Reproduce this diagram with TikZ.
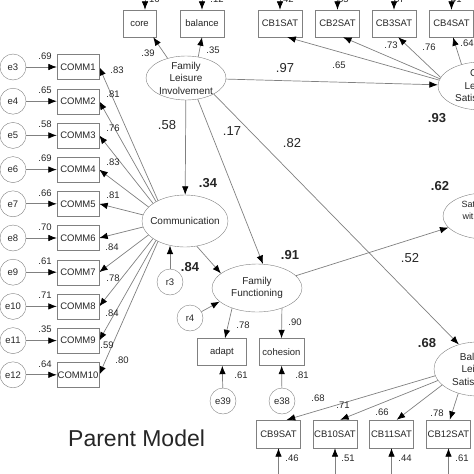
\documentclass[tikz,border=0pt]{standalone}
\usepackage{fontspec}
\setmainfont{Liberation Sans}
\usetikzlibrary{arrows.meta,shapes.geometric,backgrounds}

\begin{document}
\begin{tikzpicture}[x=1pt,y=-1pt,>={Latex[length=8.5pt,width=6.5pt,color=black]},
  every node/.style={font=\fontsize{9.5}{11}\selectfont,text=black!85},
  obs/.style={draw=gray,minimum height=27pt,inner sep=0pt},
  lat/.style={draw=gray,fill=white,ellipse,inner sep=-10pt,align=center,
    font=\fontsize{10}{12.5}\selectfont},
  err/.style={draw=gray,circle,minimum size=26pt,inner sep=0pt},
  conn/.style={draw=gray,line width=0.7pt,->},
  coef/.style={font=\fontsize{13}{13}\selectfont},
  rsq/.style={font=\fontsize{13}{13}\selectfont\bfseries}]
 \useasboundingbox (0,0) rectangle (474,474);
 \clip (0,0) rectangle (474,474);

 % latent variables
 \node[lat,minimum width=80pt,minimum height=44pt] (fli) at (186,78) {Family\\Leisure\\Involvement};
 \node[lat,minimum width=86pt,minimum height=52pt] (comm) at (185,221) {Communication};
 \node[lat,minimum width=90pt,minimum height=48pt] (ff) at (257,288) {Family\\Functioning};
 \node[lat,minimum width=86pt,minimum height=48pt] (cls) at (481,86) {Core\\Leisure\\Satisfaction};
 \node[lat,minimum width=84pt,minimum height=46pt,font=\fontsize{9}{12}\selectfont] (swfl) at (485,216) {Satisfaction\\with Family\\Life};
 \node[lat,minimum width=88pt,minimum height=54pt] (bls) at (478,369) {Balance\\Leisure\\Satisfaction};

 % top indicators
 \node[obs,minimum width=33pt] (core) at (139.5,23.5) {core};
 \node[obs,minimum width=44pt] (balance) at (202,23.5) {balance};
 \node[obs,minimum width=44pt] (cb1) at (280,23.5) {CB1SAT};
 \node[obs,minimum width=44pt] (cb2) at (337.5,23.5) {CB2SAT};
 \node[obs,minimum width=44pt] (cb3) at (394,23.5) {CB3SAT};
 \node[obs,minimum width=44pt] (cb4) at (451.5,23.5) {CB4SAT};

 % communication items
 \node[obs,minimum width=42pt,minimum height=25pt] (c1) at (78,67) {COMM1};
 \node[obs,minimum width=42pt,minimum height=25pt] (c2) at (78,101.2) {COMM2};
 \node[obs,minimum width=42pt,minimum height=25pt] (c3) at (78,135.4) {COMM3};
 \node[obs,minimum width=42pt,minimum height=25pt] (c4) at (78,169.6) {COMM4};
 \node[obs,minimum width=42pt,minimum height=25pt] (c5) at (78,203.8) {COMM5};
 \node[obs,minimum width=42pt,minimum height=25pt] (c6) at (78,238) {COMM6};
 \node[obs,minimum width=42pt,minimum height=25pt] (c7) at (78,272.2) {COMM7};
 \node[obs,minimum width=42pt,minimum height=25pt] (c8) at (78,306.4) {COMM8};
 \node[obs,minimum width=42pt,minimum height=25pt] (c9) at (78,340.6) {COMM9};
 \node[obs,minimum width=42pt,minimum height=25pt] (c10) at (78,374.8) {COMM10};
 \node[err] (e3) at (13,67) {e3};
 \node[err] (e4) at (13,101.2) {e4};
 \node[err] (e5) at (13,135.4) {e5};
 \node[err] (e6) at (13,169.6) {e6};
 \node[err] (e7) at (13,203.8) {e7};
 \node[err] (e8) at (13,238) {e8};
 \node[err] (e9) at (13,272.2) {e9};
 \node[err] (e10) at (13,306.4) {e10};
 \node[err] (e11) at (13,340.6) {e11};
 \node[err] (e12) at (13,374.8) {e12};

 % family functioning items
 \node[obs,minimum width=49pt] (adapt) at (222,352) {adapt};
 \node[obs,minimum width=45pt] (cohesion) at (281.5,352) {cohesion};
 \node[err] (e39) at (223,401) {e39};
 \node[err] (e38) at (282,401) {e38};
 \node[err] (r3) at (170,282) {r3};
 \node[err] (r4) at (190,318) {r4};

 % bottom indicators
 \node[obs,minimum width=44pt,minimum height=28pt] (cb9) at (278.5,434) {CB9SAT};
 \node[obs,minimum width=44pt,minimum height=28pt] (cb10) at (335,434) {CB10SAT};
 \node[obs,minimum width=44pt,minimum height=28pt] (cb11) at (391.5,434) {CB11SAT};
 \node[obs,minimum width=44pt,minimum height=28pt] (cb12) at (448.5,434) {CB12SAT};

 % free ends beyond the frame
 \coordinate (core-in) at (145,-40);
 \coordinate (balance-in) at (202,-40);
 \coordinate (cb1-in) at (280,-40);
 \coordinate (cb2-in) at (337.5,-40);
 \coordinate (cb3-in) at (394,-40);
 \coordinate (cb4-in) at (451.5,-40);
 \coordinate (cb9-in) at (278.5,510);
 \coordinate (cb10-in) at (335,510);
 \coordinate (cb11-in) at (391.5,510);
 \coordinate (cb12-in) at (448.5,510);
 \coordinate (hub) at (167,221);

 \begin{pgfonlayer}{background}
  \draw[conn] (hub) -- (c1.east);
  \draw[conn] (hub) -- (c2.east);
  \draw[conn] (hub) -- (c3.east);
  \draw[conn] (hub) -- (c4.east);
  \draw[conn] (hub) -- (c5.east);
  \draw[conn] (hub) -- (c6.east);
  \draw[conn] (hub) -- (c7.east);
  \draw[conn] (hub) -- (c8.east);
  \draw[conn] (hub) -- (c9.east);
  \draw[conn] (hub) -- (c10.east);
 \end{pgfonlayer}
 \draw[conn] (e3) -- (c1);
 \draw[conn] (e4) -- (c2);
 \draw[conn] (e5) -- (c3);
 \draw[conn] (e6) -- (c4);
 \draw[conn] (e7) -- (c5);
 \draw[conn] (e8) -- (c6);
 \draw[conn] (e9) -- (c7);
 \draw[conn] (e10) -- (c8);
 \draw[conn] (e11) -- (c9);
 \draw[conn] (e12) -- (c10);

 \draw[conn] (core-in) -- (core-in |- core.north);
 \draw[conn] (balance-in) -- (balance);
 \draw[conn] (cb1-in) -- (cb1);
 \draw[conn] (cb2-in) -- (cb2);
 \draw[conn] (cb3-in) -- (cb3);
 \draw[conn] (cb4-in) -- (cb4);
 \draw[conn] (cb9-in) -- (cb9);
 \draw[conn] (cb10-in) -- (cb10);
 \draw[conn] (cb11-in) -- (cb11);
 \draw[conn] (cb12-in) -- (cb12);

 \draw[conn] (fli.133) -- (core.-45);
 \draw[conn] (fli.60) -- (balance.south);
 \draw[conn] (fli) -- (cls);
 \draw[conn] (fli) -- (comm);
 \draw[conn] (fli.-61) -- (ff.76);
 \draw[conn] (fli.-30) -- (bls.128);
 \draw[conn] (comm.-65) -- (ff.158);
 \draw[conn] (r3.north) -- ([yshift=1.6pt]r3 |- comm.south);
 \draw[conn] (r4) -- (ff.200);
 \draw[conn] (ff) -- (swfl);
 \draw[conn] (ff.219) -- ([xshift=3pt]adapt.north);
 \draw[conn] (ff.-39) -- (cohesion.north);
 \draw[conn] (e39) -- (adapt);
 \draw[conn] (e38) -- (cohesion);
 \draw[conn] (cls.172) -- (cb1.-62);
 \draw[conn] (cls.170) -- (cb2.-68);
 \draw[conn] (cls.168) -- (cb3.-73);
 \draw[conn] (cls.132) -- (cb4.-84);
 \draw[conn] (bls.189) -- (cb9.60);
 \draw[conn] (bls.196) -- (cb10.70);
 \draw[conn] (bls.204) -- (cb11.70);
 \draw[conn] (bls.231) -- (cb12.85);

 % estimates
 \node (u3) at (45,56) {.69};
 \node (u4) at (45,90.2) {.65};
 \node (u5) at (45,124.4) {.58};
 \node (u6) at (45,158.6) {.69};
 \node (u7) at (45,192.8) {.66};
 \node (u8) at (45,227) {.70};
 \node (u9) at (45,261.2) {.61};
 \node (u10) at (45,295.4) {.71};
 \node (u11) at (45,329.6) {.35};
 \node (u12) at (45,363.8) {.64};
 \node (w1) at (117,70) {.83};
 \node (w2) at (113,94) {.81};
 \node (w3) at (113,128) {.76};
 \node (w4) at (113,162) {.83};
 \node (w5) at (113,195) {.81};
 \node (w6) at (112,247) {.84};
 \node (w7) at (113,278) {.78};
 \node (w8) at (112,313) {.84};
 \node (w9) at (107,345) {.59};
 \node (w10) at (122,360) {.80};
 \node (v-core) at (153,-1) {.16};
 \node (v-balance) at (217,-1) {.12};
 \node (v-cb1) at (287,-1) {.42};
 \node (v-cb2) at (342,-1) {.35};
 \node (v-cb3) at (398,-1) {.37};
 \node (v-cb4) at (455,-1) {.41};
 \node (w-core) at (148,53) {.39};
 \node (w-balance) at (213,50) {.35};
 \node (w-cb1) at (339,65) {.65};
 \node (w-cb2) at (391,45) {.73};
 \node (w-cb3) at (429,47) {.76};
 \node (w-cb4) at (467,43) {.64};
 \node (w-adapt) at (243,325) {.78};
 \node (w-cohesion) at (295,322) {.90};
 \node (v-adapt) at (241,375) {.61};
 \node (v-cohesion) at (302,375) {.81};
 \node (w-cb9) at (318,398) {.68};
 \node (w-cb10) at (343,405) {.71};
 \node (w-cb11) at (382,412) {.66};
 \node (w-cb12) at (437,413) {.78};
 \node (v-cb9) at (292,458) {.46};
 \node (v-cb10) at (348,458) {.51};
 \node (v-cb11) at (405,458) {.44};
 \node (v-cb12) at (462,458) {.61};
 \node[coef] (b-cls) at (285,68) {.97};
 \node[coef] (b-comm) at (167,125) {.58};
 \node[coef] (b-ff) at (232,131) {.17};
 \node[coef] (b-bls) at (292,143) {.82};
 \node[coef] (b-swfl) at (410,258) {.52};
 \node[rsq] (r-cls) at (437,118) {.93};
 \node[rsq] (r-comm) at (208,183) {.34};
 \node[rsq] (r-swfl) at (440,186) {.62};
 \node[rsq] (r-r3) at (190,267) {.84};
 \node[rsq] (r-ff) at (290,255) {.91};
 \node[rsq] (r-bls) at (427,343) {.68};

 \node[anchor=base west,inner sep=0pt,font=\fontsize{23}{23}\selectfont] (title) at (68,446) {Parent Model};
\end{tikzpicture}
\end{document}
